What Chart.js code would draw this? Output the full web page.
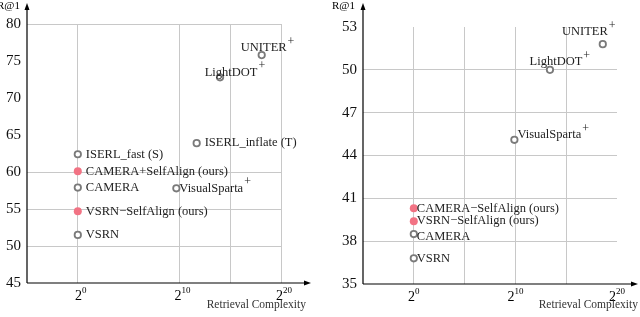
<!DOCTYPE html>
<html>
<head>
<meta charset="utf-8">
<script src="https://cdn.jsdelivr.net/npm/chart.js@4.4.1/dist/chart.umd.min.js"></script>
<style>
	html, body { margin: 0; padding: 0; background: #fff; }
	#wrap { width: 640px; height: 317px; display: flex; }
	.pane { width: 320px; height: 317px; position: relative; }
</style>
</head>
<body>
<div id="wrap">
	<div class="pane"><canvas id="left"></canvas></div>
	<div class="pane"><canvas id="right"></canvas></div>
</div>
<script>
// x values are log2(retrieval complexity), y values are R@1
var leftNames = ['ISERL_fast (S)', 'CAMERA+SelfAlign (ours)', 'CAMERA', 'VSRN\u2212SelfAlign (ours)', 'VSRN', 'VisualSparta', 'ISERL_inflate (T)', 'LightDOT', 'UNITER'];
var leftX = [0, 0, 0, 0, 0, 9.7, 11.7, 14.0, 18.1];
var leftY = [62.4, 60.1, 57.9, 54.7, 51.5, 57.8, 63.9, 72.8, 75.8];
var leftOurs = [false, true, false, true, false, false, false, false, false];
var leftPlus = [false, false, false, false, false, true, false, true, true];
var leftYTicks = [45, 50, 55, 60, 65, 70, 75, 80];

var rightNames = ['UNITER', 'LightDOT', 'VisualSparta', 'CAMERA\u2212SelfAlign (ours)', 'VSRN\u2212SelfAlign (ours)', 'CAMERA', 'VSRN'];
var rightX = [18.6, 13.4, 9.9, 0, 0, 0, 0];
var rightY = [51.8, 50.0, 45.1, 40.3, 39.4, 38.5, 36.8];
var rightOurs = [false, false, false, true, true, false, false];
var rightPlus = [true, true, true, false, false, false, false];
var rightYTicks = [35, 38, 41, 44, 47, 50, 53];

var xTickExps = [0, 10, 20];

var SERIF = '"Liberation Serif", "DejaVu Serif", serif';
var PINK = '#f27384';
var GREY = '#7a7a7a';

// label placement by point name
var leftPlace = { 'UNITER': 'aboveL', 'LightDOT': 'aboveR', 'VisualSparta': 'rightTight' };
var rightPlace = { 'UNITER': 'aboveLeft', 'LightDOT': 'above', 'VisualSparta': 'rightUp', 'CAMERA': 'rightDown', 'VSRN': 'rightTight', 'CAMERA\u2212SelfAlign (ours)': 'rightTight', 'VSRN\u2212SelfAlign (ours)': 'rightTight' };

function pointsOf(xs, ys, flags, want){
	var out = [];
	xs.forEach( (x, i) => {
		if(flags[i] === want) out.push({x: x, y: ys[i], i: i});
	});
	return out;
}

var decorPlugin = {
	id: 'decor',
	afterDraw: function(chart, args, opts){
		var ctx = chart.ctx;
		var xs = chart.scales.x, ys = chart.scales.y;
		var a = chart.chartArea;
		ctx.save();
		// axes with arrows
		ctx.strokeStyle = '#000';
		ctx.fillStyle = '#000';
		ctx.lineWidth = 1.2;
		ctx.beginPath();
		ctx.moveTo(a.left, a.bottom);
		ctx.lineTo(a.left, 6);
		ctx.moveTo(a.left, a.bottom);
		ctx.lineTo(opts.xEnd, a.bottom);
		ctx.stroke();
		ctx.beginPath();
		ctx.moveTo(a.left, 3); ctx.lineTo(a.left - 2.5, 10); ctx.lineTo(a.left + 2.5, 10); ctx.closePath();
		ctx.fill();
		ctx.beginPath();
		ctx.moveTo(opts.xEnd + 3, a.bottom); ctx.lineTo(opts.xEnd - 4, a.bottom - 2.5); ctx.lineTo(opts.xEnd - 4, a.bottom + 2.5); ctx.closePath();
		ctx.fill();

		// y axis title
		ctx.font = '11px ' + SERIF;
		ctx.textAlign = 'right';
		ctx.textBaseline = 'middle';
		ctx.fillText('R@1', a.left - opts.titleGap, 6);

		// x tick labels with superscript
		xTickExps.forEach( (e) => {
			var px = xs.getPixelForValue(e) + opts.xTickShift;
			ctx.font = '14px ' + SERIF;
			var w1 = ctx.measureText('2').width;
			ctx.font = '9px ' + SERIF;
			var w2 = ctx.measureText(String(e)).width;
			var start = px - (w1 + w2) / 2;
			ctx.textAlign = 'left';
			ctx.textBaseline = 'alphabetic';
			ctx.font = '14px ' + SERIF;
			ctx.fillText('2', start, a.bottom + 17);
			ctx.font = '9px ' + SERIF;
			ctx.fillText(String(e), start + w1, a.bottom + 10);
		});

		// x axis title
		ctx.font = '11.5px ' + SERIF;
		ctx.fillStyle = '#333';
		ctx.textAlign = 'right';
		ctx.textBaseline = 'middle';
		ctx.fillText('Retrieval Complexity', opts.titleRight, 305);

		// point labels
		ctx.fillStyle = '#222';
		opts.names.forEach( (name, i) => {
			var px = xs.getPixelForValue(opts.xv[i]);
			var py = ys.getPixelForValue(opts.yv[i]);
			var place = opts.place[name] || 'right';
			ctx.font = '12.5px ' + SERIF;
			var w = ctx.measureText(name).width;
			var tx, ty;
			if(place === 'right'){ tx = px + 8; ty = py; }
			else if(place === 'rightTight'){ tx = px + 3; ty = py; }
			else if(place === 'rightUp'){ tx = px + 3; ty = py - 5; }
			else if(place === 'rightDown'){ tx = px + 3; ty = py + 3; }
			else if(place === 'above'){ tx = px - w / 2 + 6; ty = py - 8; }
			else if(place === 'aboveL'){ tx = px - w / 2 + 2; ty = py - 7; }
			else if(place === 'aboveR'){ tx = px - w / 2 + 11; ty = py - 5; }
			else { tx = px - w + 5; ty = py - 12; }
			ctx.textAlign = 'left';
			ctx.textBaseline = 'middle';
			ctx.fillText(name, tx, ty);
			if(opts.plus[i]){
				ctx.font = '12px ' + SERIF;
				ctx.fillText('+', tx + w + 1, ty - 6);
			}
		});
		ctx.restore();
	}
};

function makeChart(canvas, cfg){
	return new Chart(canvas, {
		type: 'scatter',
		data: {
			datasets: [
				{
					data: pointsOf(cfg.xv, cfg.yv, cfg.ours, false),
					pointRadius: 3.2,
					pointBorderWidth: 1.8,
					pointBackgroundColor: '#fff',
					pointBorderColor: GREY
				},
				{
					data: pointsOf(cfg.xv, cfg.yv, cfg.ours, true),
					pointRadius: 4,
					pointBorderWidth: 0,
					pointBackgroundColor: PINK,
					pointBorderColor: PINK
				}
			]
		},
		options: {
			responsive: false,
			animation: false,
			events: [],
			layout: { padding: { top: cfg.top, right: cfg.right, left: 0, bottom: 0 } },
			plugins: {
				legend: { display: false },
				tooltip: { enabled: false },
				decor: {
					names: cfg.names, xv: cfg.xv, yv: cfg.yv, plus: cfg.plus, place: cfg.place,
					xEnd: cfg.xEnd, titleRight: cfg.titleRight, xTickShift: cfg.xTickShift, titleGap: cfg.titleGap
				}
			},
			scales: {
				x: {
					type: 'linear',
					min: -5,
					max: 20,
					afterBuildTicks: (s) => { s.ticks = cfg.xGrid.map( (v) => ({value: v}) ); },
					afterFit: (s) => { s.height = cfg.xH; },
					ticks: { display: false },
					grid: { color: '#c8c8c8', lineWidth: 1, drawTicks: false },
					border: { display: false }
				},
				y: {
					type: 'linear',
					min: cfg.yTicks[0],
					max: cfg.yTicks[cfg.yTicks.length - 1],
					afterBuildTicks: (s) => { s.ticks = cfg.yTicks.map( (v) => ({value: v}) ); },
					afterFit: (s) => { s.width = cfg.yW; },
					ticks: {
						color: '#111',
						padding: 6,
						font: { family: SERIF, size: 15 }
					},
					grid: {
						color: (c) => cfg.yGrid.indexOf(c.tick.value) >= 0 ? '#c8c8c8' : 'rgba(0,0,0,0)',
						lineWidth: 1,
						drawTicks: false
					},
					border: { display: false }
				}
			}
		},
		plugins: [decorPlugin]
	});
}

var lc = document.getElementById('left');
lc.width = 320; lc.height = 317;
var rc = document.getElementById('right');
rc.width = 320; rc.height = 317;

makeChart(lc, {
	names: leftNames, xv: leftX, yv: leftY, ours: leftOurs, plus: leftPlus, place: leftPlace,
	yTicks: leftYTicks, yGrid: [80, 60, 55, 50], xGrid: [0, 10, 15, 20],
	top: 24, right: 39, yW: 27, xH: 34, xEnd: 308, titleRight: 306, xTickShift: 3, titleGap: 7
});
makeChart(rc, {
	names: rightNames, xv: rightX, yv: rightY, ours: rightOurs, plus: rightPlus, place: rightPlace,
	yTicks: rightYTicks, yGrid: [50, 47, 44, 41, 38], xGrid: [0, 5, 10, 15],
	top: 27, right: 23, yW: 43, xH: 33, xEnd: 315, titleRight: 318, xTickShift: 0, titleGap: 8
});
</script>
</body>
</html>
